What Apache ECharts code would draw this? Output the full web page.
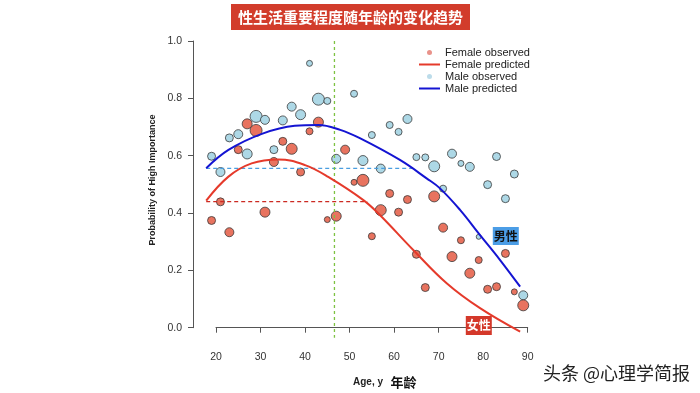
<!DOCTYPE html>
<html><head><meta charset="utf-8">
<script src="https://cdn.jsdelivr.net/npm/echarts@6/dist/echarts.min.js"></script>
<style>html,body{margin:0;padding:0;background:#fff}#c{width:700px;height:393px}</style>
</head><body><div id="c"></div>
<script>
// ---- data ----
const ages = [19,21,23,25,27,29,31,33,35,37,39,41,43,45,47,49,51,53,55,57,59,61,63,65,67,69,71,73,75,77,79,81,83,85,87,89];
const maleObserved = [0.598,0.543,0.662,0.675,0.606,0.737,0.725,0.621,0.723,0.771,0.743,0.922,0.797,0.791,0.589,null,0.816,0.583,0.672,0.555,0.707,0.683,0.728,0.595,0.594,0.563,0.485,0.607,0.573,0.561,0.317,0.499,0.597,0.450,0.536,0.113];
const maleSampleSize = [8,9,8,9,10,12,9,8,9,9,10,6,12,7,9,0,7,10,7,9,7,7,9,7,7,11,7,9,6,9,5,8,8,8,8,9];
const femaleObserved = [0.374,0.439,0.333,0.621,0.711,0.688,0.403,0.578,0.650,0.624,0.543,0.685,0.717,0.377,0.389,0.621,0.507,0.514,0.319,0.410,0.468,0.403,0.447,0.256,0.140,0.458,0.349,0.248,0.305,0.190,0.236,0.134,0.143,0.259,0.125,0.078];
const femaleSampleSize = [8,8,9,8,10,12,10,9,8,11,8,7,10,6,10,9,6,12,7,11,8,8,8,8,8,11,9,10,7,10,7,8,8,8,6,11];
const malePredAge = [17.8,22.8,30.3,37.7,43.0,47.9,52.3,61.3,67.3,70.3,74.8,79.3,83.8,88.3];
const malePredVal = [0.556,0.620,0.676,0.704,0.707,0.690,0.661,0.585,0.521,0.486,0.411,0.323,0.236,0.143];
const femalePredAge = [17.8,22.8,28.0,34.0,40.0,45.2,53.1,56.8,64.3,71.8,79.3,88.3];
const femalePredVal = [0.443,0.527,0.573,0.587,0.567,0.526,0.445,0.393,0.271,0.155,0.068,-0.014];
const maleRefLevel = 0.556, maleRefFrom = 17.8, maleRefTo = 64.2;
const femaleRefLevel = 0.440, femaleRefFrom = 17.8, femaleRefTo = 54.0;
const peakAge = 46.6, peakLineTop = 1.0, peakLineBottom = -0.035;
const xMin = 20, xMax = 90, xStep = 10;
const yMin = 0, yMax = 1, yStep = 0.2;
// plotting range of the data layer (wider than the drawn axes, R style)
const xDataMin = 15, yDataMin = -0.05;

// ---- chart ----
const LAT = "'Liberation Sans', Arial, sans-serif";
const CJK = "'Noto Sans CJK SC', sans-serif";
const chart = echarts.init(document.getElementById('c'));
const pts = (vals, sizes) => ages.map((a,i)=> vals[i]==null?null:[a, vals[i], sizes[i]]).filter(Boolean);
const pairs = (xs, ys) => xs.map((x,i)=>[x, ys[i]]);
const axisColor = '#555';
// axes grid geometry
const gL = 216, gR = 172.3, gT = 41, gB = 65.3;
const pxPerX = (700 - gL - gR) / (xMax - xMin);
const pxPerY = (393 - gT - gB) / (yMax - yMin);
const gL2 = gL - (xMin - xDataMin) * pxPerX;
const gB2 = gB - (yMin - yDataMin) * pxPerY;
const onData = {xAxisIndex:1, yAxisIndex:1};
chart.setOption({
  animation: false,
  backgroundColor: '#fff',
  grid: [
    {left: gL, right: gR, top: gT, bottom: gB, outerBoundsMode: 'none'},
    {left: gL2, right: gR, top: gT, bottom: gB2, outerBoundsMode: 'none'}
  ],
  xAxis: [
    {type:'value', gridIndex:0, min:xMin, max:xMax, interval:xStep, offset:12.3,
      axisLine:{show:true, lineStyle:{color:axisColor, width:1}},
      axisTick:{show:true, length:5, lineStyle:{color:axisColor}},
      axisLabel:{color:'#333', fontSize:10.5, fontFamily:LAT, margin:12},
      splitLine:{show:false}},
    {type:'value', gridIndex:1, min:xDataMin, max:xMax, show:false, splitLine:{show:false}}
  ],
  yAxis: [
    {type:'value', gridIndex:0, min:yMin, max:yMax, interval:yStep, offset:23,
      axisLine:{show:true, lineStyle:{color:axisColor, width:1}},
      axisTick:{show:true, length:5, lineStyle:{color:axisColor}},
      axisLabel:{color:'#333', fontSize:10.5, fontFamily:LAT, margin:11, formatter:v=>v.toFixed(1)},
      splitLine:{show:false}},
    {type:'value', gridIndex:1, min:yDataMin, max:yMax, show:false, splitLine:{show:false}}
  ],
  legend: {orient:'vertical', left:413, top:41.5, itemWidth:21, itemHeight:5, itemGap:0, itemTextGap:8,
    textStyle:{fontSize:11, fontFamily:LAT, color:'#222', lineHeight:12},
    data:[
      {name:'Female observed', icon:'circle', itemStyle:{color:'#e9928a', borderWidth:0}},
      {name:'Female predicted', itemStyle:{opacity:0}},
      {name:'Male observed', icon:'circle', itemStyle:{color:'#bcdcea', borderWidth:0}},
      {name:'Male predicted', itemStyle:{opacity:0}}
    ]},
  series: [
    Object.assign({name:'Male observed', type:'scatter', data:pts(maleObserved, maleSampleSize), symbolSize:v=>v[2], clip:false, z:2,
      itemStyle:{color:'#add8e6', borderColor:'#3a3a3a', borderWidth:0.8, opacity:1}}, onData),
    Object.assign({name:'Female observed', type:'scatter', data:pts(femaleObserved, femaleSampleSize), symbolSize:v=>v[2], clip:false, z:3,
      itemStyle:{color:'#e8735f', borderColor:'#3a3a3a', borderWidth:0.8, opacity:1}}, onData),
    Object.assign({name:'Male ref', type:'line', data:[[maleRefFrom, maleRefLevel],[maleRefTo, maleRefLevel]], symbol:'none', clip:false, z:4,
      lineStyle:{color:'#4a9ee0', width:1.3, type:[4,3]}}, onData),
    Object.assign({name:'Female ref', type:'line', data:[[femaleRefFrom, femaleRefLevel],[femaleRefTo, femaleRefLevel]], symbol:'none', clip:false, z:4,
      lineStyle:{color:'#cc2a22', width:1.3, type:[4,3]}}, onData),
    Object.assign({name:'Peak', type:'line', data:[[peakAge, peakLineTop],[peakAge, peakLineBottom]], symbol:'none', clip:false, z:4,
      lineStyle:{color:'#7dc242', width:1.3, type:[3,3]}}, onData),
    Object.assign({name:'Male predicted', type:'line', data:pairs(malePredAge, malePredVal), smooth:0.4, symbol:'none', clip:false, z:5,
      itemStyle:{color:'#1414d2'}, lineStyle:{color:'#1414d2', width:2}}, onData),
    Object.assign({name:'Female predicted', type:'line', data:pairs(femalePredAge, femalePredVal), smooth:0.4, symbol:'none', clip:false, z:5,
      itemStyle:{color:'#e53a2b'}, lineStyle:{color:'#e53a2b', width:2}}, onData)
  ],
  graphic: [
    {type:'text', x:350.5, y:17, z:10, style:{text:'性生活重要程度随年龄的变化趋势', fill:'#fff', font:'bold 15px '+CJK,
      align:'center', verticalAlign:'middle', backgroundColor:'#d23c2b', padding:[3,7], lineHeight:20}},
    {type:'text', x:505.8, y:236, z:10, style:{text:'男性', fill:'#111', font:'bold 12px '+CJK,
      align:'center', verticalAlign:'middle', backgroundColor:'#4b9de6', padding:[2,1], lineHeight:14}},
    {type:'text', x:478.8, y:325.5, z:10, style:{text:'女性', fill:'#fff', font:'bold 12px '+CJK,
      align:'center', verticalAlign:'middle', backgroundColor:'#d4382a', padding:[2,1], lineHeight:15}},
    {type:'text', x:153, y:180, rotation:Math.PI/2, z:10, style:{text:'Probability of High Importance', fill:'#222',
      font:'bold 9px '+LAT, align:'center', verticalAlign:'middle'}},
    {type:'text', x:368, y:382, z:10, style:{text:'Age, y', fill:'#222', font:'bold 10px '+LAT, align:'center', verticalAlign:'middle'}},
    {type:'text', x:403.5, y:382, z:10, style:{text:'年龄', fill:'#111', font:'bold 13px '+CJK, align:'center', verticalAlign:'middle'}},
    {type:'text', x:543, y:373, z:10, style:{text:'头条 @心理学简报', fill:'#222', font:'18px '+CJK, align:'left', verticalAlign:'middle'}}
  ]
});
</script></body></html>
